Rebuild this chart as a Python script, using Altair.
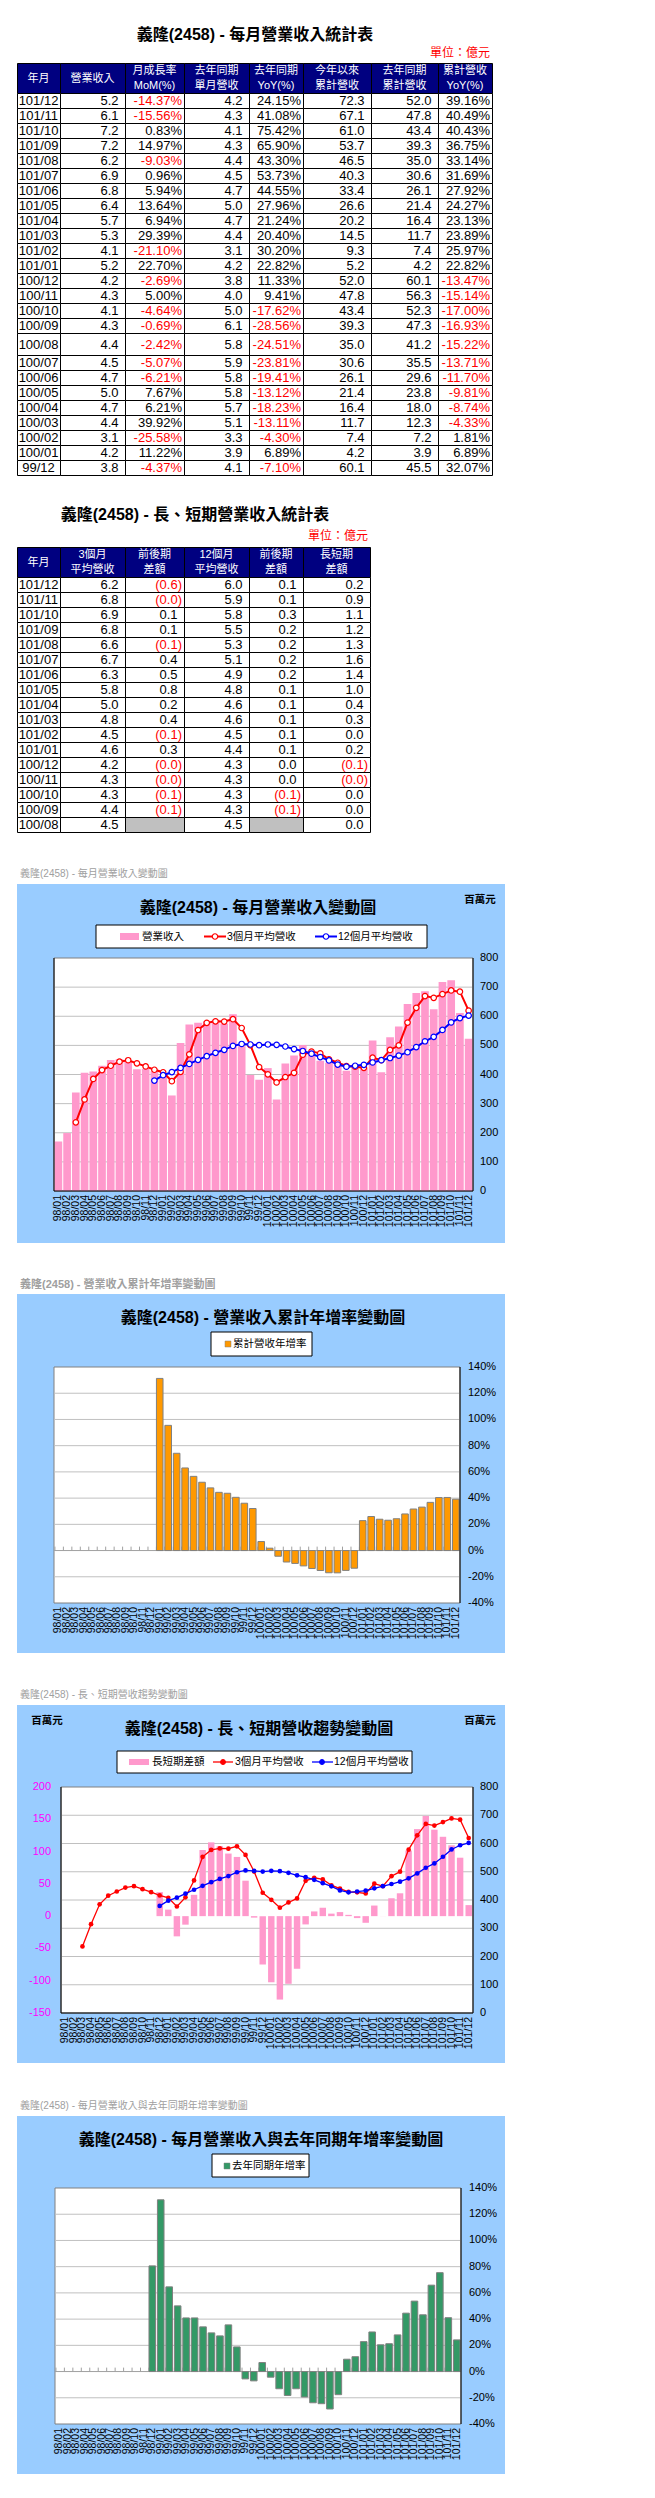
import altair as alt
import pandas as pd

# ====================== DATA ======================
months = [
    "98/01", "98/02", "98/03", "98/04", "98/05", "98/06", "98/07", "98/08", "98/09", "98/10", "98/11", "98/12",
    "99/01", "99/02", "99/03", "99/04", "99/05", "99/06", "99/07", "99/08", "99/09", "99/10", "99/11", "99/12",
    "100/01", "100/02", "100/03", "100/04", "100/05", "100/06", "100/07", "100/08", "100/09", "100/10", "100/11", "100/12",
    "101/01", "101/02", "101/03", "101/04", "101/05", "101/06", "101/07", "101/08", "101/09", "101/10", "101/11", "101/12"]

# monthly revenue (百萬元)
revenue = [170, 199, 338, 406, 410, 430, 450, 452, 445, 418, 420, 411,
           392, 328, 508, 572, 578, 582, 588, 575, 607, 497, 398, 382,
           422, 314, 438, 465, 501, 470, 447, 440, 434, 413, 434, 422,
           517, 408, 528, 565, 642, 680, 686, 624, 718, 724, 611, 523]
# 3-month average revenue
avg3 = [None, None, 235.7, 314.3, 384.7, 415.3, 430.0, 444.0, 449.0, 438.3, 427.7, 416.3,
        407.7, 377.0, 409.3, 469.3, 552.7, 577.3, 582.7, 581.7, 590.0, 559.7, 500.7, 425.7,
        400.7, 372.7, 391.3, 405.7, 468.0, 478.7, 472.7, 452.3, 440.3, 429.0, 427.0, 423.0,
        457.7, 449.0, 484.3, 500.3, 578.3, 629.0, 669.3, 663.3, 676.0, 688.7, 684.3, 619.3]
# 12-month average revenue
avg12 = [None, None, None, None, None, None, None, None, None, None, None, 379.1,
         397.6, 408.3, 422.5, 436.3, 450.3, 463.0, 474.5, 484.8, 498.3, 504.8, 503.0, 500.6,
         503.1, 501.9, 496.1, 487.2, 480.8, 471.4, 459.7, 448.4, 434.0, 427.0, 430.0, 433.3,
         441.3, 449.1, 456.6, 464.9, 476.7, 494.2, 514.1, 529.4, 553.1, 579.0, 593.8, 602.2]
# long/short gap (3-month avg minus 12-month avg)
gap = [None, None, None, None, None, None, None, None, None, None, None, 37.2,
       10.1, -31.3, -13.2, 33.0, 102.4, 114.3, 108.2, 96.9, 91.7, 54.9, -2.3, -74.9,
       -102.4, -129.2, -104.8, -81.5, -12.8, 7.3, 13.0, 3.9, 6.3, 2.0, -3.0, -10.3,
       16.4, -0.1, 27.7, 35.4, 101.6, 134.8, 155.2, 133.9, 122.9, 109.7, 90.5, 17.1]
# cumulative revenue YoY (%)
cum_yoy = [None, None, None, None, None, None, None, None, None, None, None, None,
           131.3, 95.5, 74.2, 63.0, 56.6, 52.1, 47.8, 44.4, 43.7, 40.6, 36.1, 32.07,
           6.89, 1.81, -4.33, -8.74, -9.81, -11.70, -13.71, -15.22, -16.93, -17.00, -15.14, -13.47,
           22.82, 25.97, 23.89, 23.13, 24.27, 27.92, 31.69, 33.14, 36.75, 40.43, 40.49, 39.16]
# monthly revenue YoY (%)
yoy = [None, None, None, None, None, None, None, None, None, None, None, 80.6,
       131.0, 64.6, 50.1, 40.9, 40.9, 34.1, 29.5, 27.2, 35.6, 18.8, -5.6, -7.10,
       6.89, -4.30, -13.11, -18.23, -13.12, -19.41, -23.81, -24.51, -28.56, -17.62, 9.41, 11.33,
       22.82, 30.20, 20.40, 21.24, 27.96, 44.55, 53.73, 43.30, 65.90, 75.42, 41.08, 24.15]

rev_ticks = [0, 100, 200, 300, 400, 500, 600, 700, 800]
pct_ticks = [-40, -20, 0, 20, 40, 60, 80, 100, 120, 140]
gap_ticks = [-150, -100, -50, 0, 50, 100, 150, 200]

# ---- table 1 ----
t1_header = ["年月", "營業收入", "月成長率\nMoM(%)", "去年同期\n單月營收", "去年同期\nYoY(%)",
             "今年以來\n累計營收", "去年同期\n累計營收", "累計營收\nYoY(%)"]
t1_month = ["101/12", "101/11", "101/10", "101/09", "101/08", "101/07", "101/06", "101/05", "101/04",
            "101/03", "101/02", "101/01", "100/12", "100/11", "100/10", "100/09", "100/08", "100/07",
            "100/06", "100/05", "100/04", "100/03", "100/02", "100/01", "99/12"]
t1_rev = ["5.2", "6.1", "7.2", "7.2", "6.2", "6.9", "6.8", "6.4", "5.7", "5.3", "4.1", "5.2", "4.2",
          "4.3", "4.1", "4.3", "4.4", "4.5", "4.7", "5.0", "4.7", "4.4", "3.1", "4.2", "3.8"]
t1_mom = ["-14.37%", "-15.56%", "0.83%", "14.97%", "-9.03%", "0.96%", "5.94%", "13.64%", "6.94%",
          "29.39%", "-21.10%", "22.70%", "-2.69%", "5.00%", "-4.64%", "-0.69%", "-2.42%", "-5.07%",
          "-6.21%", "7.67%", "6.21%", "39.92%", "-25.58%", "11.22%", "-4.37%"]
t1_ly = ["4.2", "4.3", "4.1", "4.3", "4.4", "4.5", "4.7", "5.0", "4.7", "4.4", "3.1", "4.2", "3.8",
         "4.0", "5.0", "6.1", "5.8", "5.9", "5.8", "5.8", "5.7", "5.1", "3.3", "3.9", "4.1"]
t1_yoy = ["24.15%", "41.08%", "75.42%", "65.90%", "43.30%", "53.73%", "44.55%", "27.96%", "21.24%",
          "20.40%", "30.20%", "22.82%", "11.33%", "9.41%", "-17.62%", "-28.56%", "-24.51%", "-23.81%",
          "-19.41%", "-13.12%", "-18.23%", "-13.11%", "-4.30%", "6.89%", "-7.10%"]
t1_ytd = ["72.3", "67.1", "61.0", "53.7", "46.5", "40.3", "33.4", "26.6", "20.2", "14.5", "9.3", "5.2",
          "52.0", "47.8", "43.4", "39.3", "35.0", "30.6", "26.1", "21.4", "16.4", "11.7", "7.4", "4.2", "60.1"]
t1_ly_ytd = ["52.0", "47.8", "43.4", "39.3", "35.0", "30.6", "26.1", "21.4", "16.4", "11.7", "7.4", "4.2",
             "60.1", "56.3", "52.3", "47.3", "41.2", "35.5", "29.6", "23.8", "18.0", "12.3", "7.2", "3.9", "45.5"]
t1_ytd_yoy = ["39.16%", "40.49%", "40.43%", "36.75%", "33.14%", "31.69%", "27.92%", "24.27%", "23.13%",
              "23.89%", "25.97%", "22.82%", "-13.47%", "-15.14%", "-17.00%", "-16.93%", "-15.22%",
              "-13.71%", "-11.70%", "-9.81%", "-8.74%", "-4.33%", "1.81%", "6.89%", "32.07%"]

# ---- table 2 ----
t2_header = ["年月", "3個月\n平均營收", "前後期\n差額", "12個月\n平均營收", "前後期\n差額", "長短期\n差額"]
t2_month = ["101/12", "101/11", "101/10", "101/09", "101/08", "101/07", "101/06", "101/05", "101/04",
            "101/03", "101/02", "101/01", "100/12", "100/11", "100/10", "100/09", "100/08"]
t2_avg3 = ["6.2", "6.8", "6.9", "6.8", "6.6", "6.7", "6.3", "5.8", "5.0", "4.8", "4.5", "4.6", "4.2",
           "4.3", "4.3", "4.4", "4.5"]
t2_avg3_chg = ["(0.6)", "(0.0)", "0.1", "0.1", "(0.1)", "0.4", "0.5", "0.8", "0.2", "0.4", "(0.1)", "0.3",
               "(0.0)", "(0.0)", "(0.1)", "(0.1)", ""]
t2_avg12 = ["6.0", "5.9", "5.8", "5.5", "5.3", "5.1", "4.9", "4.8", "4.6", "4.6", "4.5", "4.4", "4.3",
            "4.3", "4.3", "4.3", "4.5"]
t2_avg12_chg = ["0.1", "0.1", "0.3", "0.2", "0.2", "0.2", "0.2", "0.1", "0.1", "0.1", "0.1", "0.1", "0.0",
                "0.0", "(0.1)", "(0.1)", ""]
t2_gap = ["0.2", "0.9", "1.1", "1.2", "1.3", "1.6", "1.4", "1.0", "0.4", "0.3", "0.0", "0.2", "(0.1)",
          "(0.0)", "0.0", "0.0", "0.0"]

# ====================== STYLE / LAYOUT ======================
W, H = 639, 2482
CJK = "Noto Sans CJK TC"
MIX = "Liberation Sans Narrow, Liberation Sans, Noto Sans CJK TC"
LAT = "Liberation Sans"
SKY, PINK, ORANGE, GREEN = "#99CCFF", "#FF99CC", "#FF9900", "#339966"
RED, BLUE, NAVY = "#FF0000", "#0000FF", "#000080"
GRID, FRAME, CAP = "#C0C0C0", "#808080", "#A0A0A0"
HEAD_LH = 14.5


def P(v):
    return v - 8  # screen pixel -> view pixel


ONE = pd.DataFrame({"k": [0]})
df_months = pd.DataFrame({"m": months})


def box(x0, x1, y0, y1, fill, stroke=None, sw=1.0):
    kw = dict(fill=fill)
    if stroke:
        kw.update(stroke=stroke, strokeWidth=sw)
    return alt.Chart(ONE).mark_rect(**kw).encode(
        x=alt.value(P(x0)), x2=alt.value(P(x1)), y=alt.value(P(y0)), y2=alt.value(P(y1)))


def label(txt, x, y, size, font=MIX, color="black", weight="normal", align="left"):
    return alt.Chart(ONE).mark_text(text=txt, font=font, fontSize=size, fontWeight=weight, color=color,
                                    align=align, baseline="middle").encode(
        x=alt.value(P(x)), y=alt.value(P(y)))


def hline(x0, x1, y, color, sw=1.0):
    return alt.Chart(ONE).mark_rule(color=color, strokeWidth=sw).encode(
        x=alt.value(P(x0)), x2=alt.value(P(x1)), y=alt.value(P(y)))


def vline(x, y0, y1, color, sw=1.0):
    return alt.Chart(ONE).mark_rule(color=color, strokeWidth=sw).encode(
        x=alt.value(P(x)), y=alt.value(P(y0)), y2=alt.value(P(y1)))


def dot(x, y, fill, stroke, size):
    return alt.Chart(ONE).mark_circle(fill=fill, stroke=stroke, strokeWidth=1.2, size=size, opacity=1).encode(
        x=alt.value(P(x)), y=alt.value(P(y)))


def xband(x0, x1, pi):
    return alt.Scale(type="band", domain=months, range=[P(x0), P(x1)], paddingInner=pi, paddingOuter=pi / 2)


def yscale(lo, hi, ybot, ytop):
    return alt.Scale(domain=[lo, hi], range=[P(ybot), P(ytop)], nice=False, zero=False)


def month_labels(XS, y):
    return alt.Chart(df_months).mark_text(angle=270, align="right", baseline="middle", font=LAT,
                                          fontSize=10.5, color="black").encode(
        x=alt.X("m:N", scale=XS, axis=None), y=alt.value(P(y)), text="m:N")


def tick_labels(ticks, suffix, YS, x, align, color="black"):
    df = pd.DataFrame({"v": ticks, "lab": [f"{t}{suffix}" for t in ticks]})
    return alt.Chart(df).mark_text(align=align, baseline="middle", font=MIX, fontSize=11, color=color).encode(
        x=alt.value(P(x)), y=alt.Y("v:Q", scale=YS, axis=None), text="lab:N")


def grid(ticks, YS, x0, x1, color=GRID):
    df = pd.DataFrame({"v": ticks})
    return alt.Chart(df).mark_rule(color=color, strokeWidth=1).encode(
        y=alt.Y("v:Q", scale=YS, axis=None), x=alt.value(P(x0)), x2=alt.value(P(x1)))


def zero_ticks(XS, YS):
    df = pd.DataFrame({"m": months, "z": [0] * len(months), "t": [3] * len(months)})
    return alt.Chart(df).mark_rule(color="#A0A0A0").encode(
        x=alt.X("m:N", scale=XS, axis=None, bandPosition=0),
        y=alt.Y("z:Q", scale=YS, axis=None), y2="t:Q")


def series(vals):
    return pd.DataFrame({"m": [m for m, v in zip(months, vals) if v is not None],
                         "v": [v for v in vals if v is not None]})


# ====================== TABLES ======================
def build_table(header, cols, edges, head, row_h, gray=()):
    rects, htext, ctext, rtext = [], [], [], []
    y0, y1 = head
    for j, h in enumerate(header):
        rects.append(dict(x0=P(edges[j]) + .5, x1=P(edges[j + 1]) + .5, y0=P(y0) + .5, y1=P(y1) + .5, f=NAVY))
        shift = HEAD_LH / 2 if "\n" in h else 0
        htext.append(dict(x=P((edges[j] + edges[j + 1]) / 2), y=P((y0 + y1) / 2) + 0.5 - shift, t=h))
    top = y1
    for i in range(len(cols[0])):
        bot = top + row_h[i]
        mid = P((top + bot) / 2) + 0.5
        for j, col in enumerate(cols):
            val = col[i]
            fill = "#C0C0C0" if (i, j) in gray else "white"
            rects.append(dict(x0=P(edges[j]) + .5, x1=P(edges[j + 1]) + .5, y0=P(top) + .5, y1=P(bot) + .5, f=fill))
            if j == 0:
                ctext.append(dict(x=P((edges[0] + edges[1]) / 2), y=mid, t=val))
            elif val:
                pad = 2 if (val.endswith("%") or val.endswith(")")) else 6.5
                c = RED if (val.startswith("-") or val.startswith("(")) else "black"
                rtext.append(dict(x=P(edges[j + 1]) - pad, y=mid, t=val, c=c))
        top = bot
    return rects, htext, ctext, rtext


T1_EDGES = [17, 60, 125, 184, 249, 303, 371, 438, 492]
T1_ROWS = [15] * 16 + [22] + [15] * 8
T2_EDGES = [17, 60, 125, 184, 249, 303, 370]
T2_ROWS = [15] * 17

r1, h1, c1t, rt1 = build_table(t1_header, [t1_month, t1_rev, t1_mom, t1_ly, t1_yoy, t1_ytd, t1_ly_ytd, t1_ytd_yoy],
                               T1_EDGES, (63, 93), T1_ROWS)
r2, h2, c2t, rt2 = build_table(t2_header, [t2_month, t2_avg3, t2_avg3_chg, t2_avg12, t2_avg12_chg, t2_gap],
                               T2_EDGES, (547, 577), T2_ROWS, gray={(16, 2), (16, 4)})

IDX = alt.Scale(domain=[0, W], range=[0, W])
IDY = alt.Scale(domain=[0, H], range=[0, H])


def tx():
    return alt.X("x:Q", scale=IDX, axis=None)


def ty():
    return alt.Y("y:Q", scale=IDY, axis=None)


layers = [
    label("義隆(2458) - 每月營業收入統計表", 255, 35, 16, weight="bold", align="center"),
    label("單位：億元", 490, 53, 12, font=CJK, color=RED, align="right"),
    label("義隆(2458) - 長、短期營業收入統計表", 195, 515, 16, weight="bold", align="center"),
    label("單位：億元", 368, 536, 12, font=CJK, color=RED, align="right"),
    alt.Chart(pd.DataFrame(r1 + r2)).mark_rect(stroke="black", strokeWidth=1).encode(
        x=alt.X("x0:Q", scale=IDX, axis=None), x2="x1:Q",
        y=alt.Y("y0:Q", scale=IDY, axis=None), y2="y1:Q",
        fill=alt.Fill("f:N", scale=None)),
    alt.Chart(pd.DataFrame(h1 + h2)).mark_text(font=MIX, fontSize=11, color="white", align="center",
                                                baseline="middle", lineBreak="\n", lineHeight=HEAD_LH).encode(
        x=tx(), y=ty(), text="t:N"),
    alt.Chart(pd.DataFrame(c1t + c2t)).mark_text(font=MIX, fontSize=13, color="black", align="center",
                                                  baseline="middle").encode(x=tx(), y=ty(), text="t:N"),
    alt.Chart(pd.DataFrame(rt1 + rt2)).mark_text(font=MIX, fontSize=13, align="right",
                                                  baseline="middle").encode(
        x=tx(), y=ty(), text="t:N", color=alt.Color("c:N", scale=None)),
]

# ====================== CHART 1 ======================
XS1 = xband(54, 473, 0.12)
YS1 = yscale(0, 800, 1191, 958)
X1 = alt.X("m:N", scale=XS1, axis=None)
Y1 = alt.Y("v:Q", scale=YS1, axis=None)
layers += [
    box(17, 505, 884, 1243, SKY),
    label("義隆(2458) - 每月營業收入變動圖", 20, 874, 10, color=CAP),
    label("義隆(2458) - 每月營業收入變動圖", 258, 908, 16, weight="bold", align="center"),
    label("百萬元", 480, 900, 10.5, weight="bold", align="center"),
    box(96, 427, 925, 948, "white", "black"),
    box(120, 139, 933, 940, PINK),
    label("營業收入", 142, 936.5, 10.5),
    hline(204, 226, 936.5, RED, 2), dot(215, 936.5, "white", RED, 30),
    label("3個月平均營收", 227, 936.5, 10.5),
    hline(315, 337, 936.5, BLUE, 2), dot(326, 936.5, "white", BLUE, 30),
    label("12個月平均營收", 338, 936.5, 10.5),
    box(54, 473, 958, 1191, "white", FRAME),
    grid(rev_ticks[1:-1], YS1, 54, 473),
    alt.Chart(pd.DataFrame({"m": months, "v": revenue})).mark_bar(color=PINK).encode(x=X1, y=Y1),
    vline(54, 958, 1191, "black"), hline(54, 473, 1191, "black"), vline(473, 958, 1191, "black"),
    alt.Chart(series(avg3)).mark_line(color=RED, strokeWidth=2).encode(x=X1, y=Y1),
    alt.Chart(series(avg3)).mark_circle(fill="white", stroke=RED, strokeWidth=1.2, size=30, opacity=1).encode(x=X1, y=Y1),
    alt.Chart(series(avg12)).mark_line(color=BLUE, strokeWidth=2).encode(x=X1, y=Y1),
    alt.Chart(series(avg12)).mark_circle(fill="white", stroke=BLUE, strokeWidth=1.2, size=30, opacity=1).encode(x=X1, y=Y1),
    tick_labels(rev_ticks, "", YS1, 480, "left"),
    month_labels(XS1, 1195),
]

# ====================== CHART 2 ======================
XS2 = xband(54, 460, 0.22)
YS2 = yscale(-40, 140, 1603, 1367)
layers += [
    box(17, 505, 1294, 1653, SKY),
    label("義隆(2458) -  營業收入累計年增率變動圖", 20, 1285, 11, color=CAP, weight="bold"),
    label("義隆(2458) -  營業收入累計年增率變動圖", 263, 1318, 16, weight="bold", align="center"),
    box(211, 312, 1332, 1356, "white", "black"),
    box(225, 231, 1341, 1347, ORANGE, FRAME, 0.5),
    label("累計營收年增率", 233, 1344, 10.5),
    box(54, 460, 1367, 1603, "white", FRAME),
    grid([-20, 20, 40, 60, 80, 100, 120], YS2, 54, 460),
    zero_ticks(XS2, YS2),
    grid([0], YS2, 54, 460, color="#A0A0A0"),
    alt.Chart(series(cum_yoy)).mark_bar(color=ORANGE, stroke=FRAME, strokeWidth=1).encode(
        x=alt.X("m:N", scale=XS2, axis=None), y=alt.Y("v:Q", scale=YS2, axis=None)),
    vline(460, 1367, 1603, "black"),
    tick_labels(pct_ticks, "%", YS2, 468, "left"),
    month_labels(XS2, 1607),
]

# ====================== CHART 3 ======================
XS3 = xband(61, 473, 0.25)
YL3 = yscale(-150, 200, 2013, 1787)
YR3 = yscale(0, 800, 2013, 1787)
X3 = alt.X("m:N", scale=XS3, axis=None)
YR = alt.Y("v:Q", scale=YR3, axis=None)
layers += [
    box(17, 505, 1705, 2063, SKY),
    label("義隆(2458) -  長、短期營收趨勢變動圖", 20, 1695, 10, color=CAP),
    label("義隆(2458) -  長、短期營收趨勢變動圖", 259, 1729, 16, weight="bold", align="center"),
    label("百萬元", 47, 1721, 10.5, weight="bold", align="center"),
    label("百萬元", 480, 1721, 10.5, weight="bold", align="center"),
    box(117, 412, 1751, 1773, "white", "black"),
    box(129, 149, 1759, 1765, PINK),
    label("長短期差額", 152, 1762, 10.5),
    hline(213, 233, 1762, RED, 1.3), dot(223, 1762, RED, RED, 22),
    label("3個月平均營收", 235, 1762, 10.5),
    hline(312, 333, 1762, BLUE, 1.3), dot(322, 1762, BLUE, BLUE, 22),
    label("12個月平均營收", 334, 1762, 10.5),
    box(61, 473, 1787, 2013, "white", FRAME),
    grid(rev_ticks[1:-1], YR3, 61, 473),
    alt.Chart(series(gap)).mark_bar(color=PINK).encode(x=X3, y=alt.Y("v:Q", scale=YL3, axis=None)),
    tick_labels(gap_ticks, "", YL3, 51, "right", color="#FF00FF"),
    vline(61, 1787, 2013, "black"), hline(61, 473, 2013, "black"), vline(473, 1787, 2013, "black"),
    alt.Chart(series(avg3)).mark_line(color=RED, strokeWidth=1.3).encode(x=X3, y=YR),
    alt.Chart(series(avg3)).mark_circle(color=RED, size=22, opacity=1).encode(x=X3, y=YR),
    alt.Chart(series(avg12)).mark_line(color=BLUE, strokeWidth=1.3).encode(x=X3, y=YR),
    alt.Chart(series(avg12)).mark_circle(color=BLUE, size=22, opacity=1).encode(x=X3, y=YR),
    tick_labels(rev_ticks, "", YR3, 480, "left"),
    month_labels(XS3, 2017),
]

# ====================== CHART 4 ======================
XS4 = xband(55, 461, 0.22)
YS4 = yscale(-40, 140, 2424, 2188)
layers += [
    box(17, 505, 2116, 2474, SKY),
    label("義隆(2458) -  每月營業收入與去年同期年增率變動圖", 20, 2106, 10, color=CAP),
    label("義隆(2458) -  每月營業收入與去年同期年增率變動圖", 261, 2140, 16, weight="bold", align="center"),
    box(212, 309, 2154, 2177, "white", "black"),
    box(224, 230, 2163, 2169, GREEN, FRAME, 0.5),
    label("去年同期年增率", 232, 2166, 10.5),
    box(55, 461, 2188, 2424, "white", FRAME),
    grid([-20, 20, 40, 60, 80, 100, 120], YS4, 55, 461),
    zero_ticks(XS4, YS4),
    grid([0], YS4, 55, 461, color="#A0A0A0"),
    alt.Chart(series(yoy)).mark_bar(color=GREEN, stroke=FRAME, strokeWidth=1).encode(
        x=alt.X("m:N", scale=XS4, axis=None), y=alt.Y("v:Q", scale=YS4, axis=None)),
    vline(461, 2188, 2424, "black"),
    tick_labels(pct_ticks, "%", YS4, 469, "left"),
    month_labels(XS4, 2428),
]

chart = alt.layer(*layers).resolve_scale(
    x="independent", y="independent"
).properties(
    width=W, height=H, padding=0, background="white",
    autosize=alt.AutoSizeParams(type="none"),
).configure_view(stroke=None)

chart.save("out.html", embed_options={"renderer": "svg", "actions": False})
